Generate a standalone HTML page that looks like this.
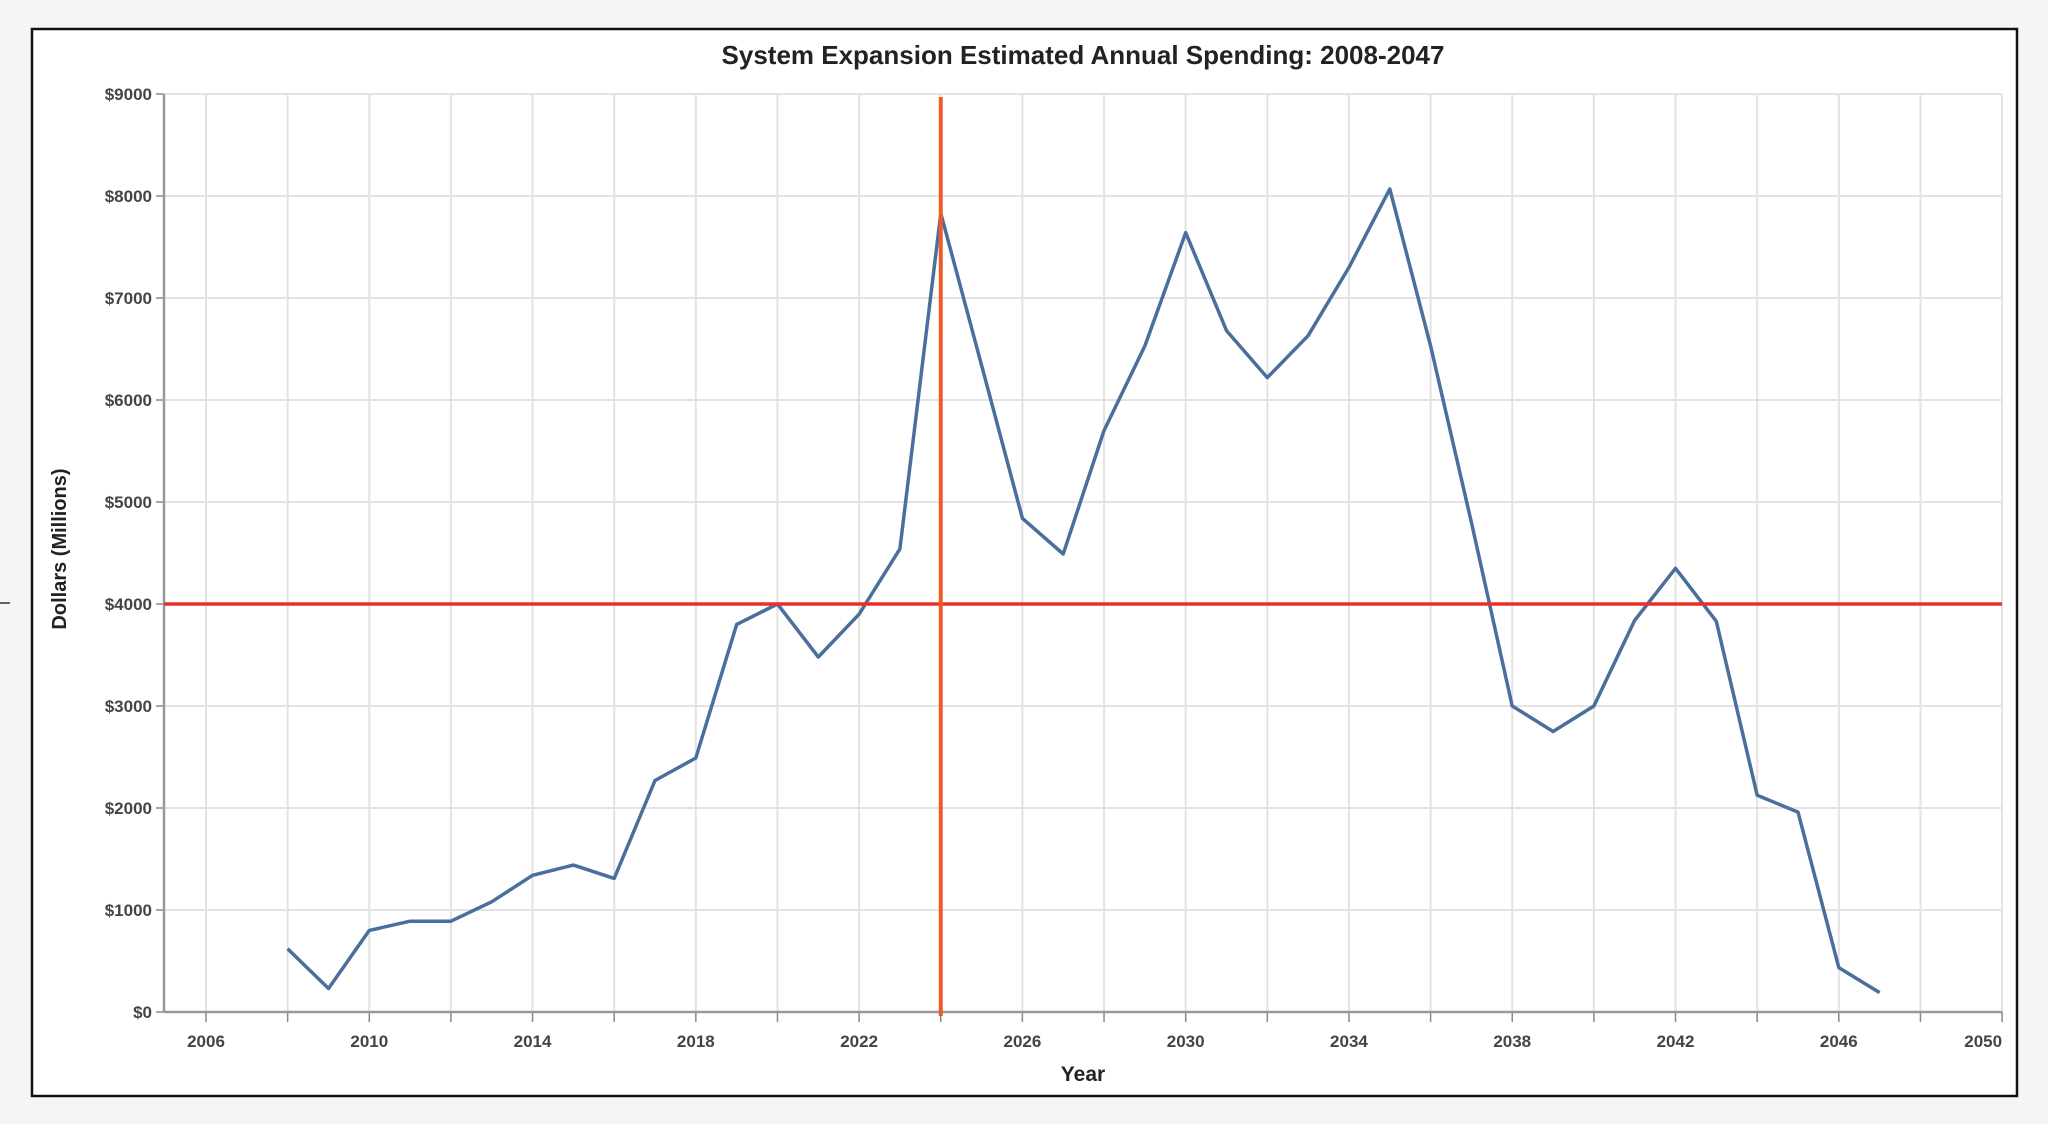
<!DOCTYPE html>
<html><head><meta charset="utf-8"><style>
html,body{margin:0;padding:0;background:#f4f6f5;}
svg{display:block;font-family:"Liberation Sans",Arial,sans-serif;}
</style></head><body>
<svg id="chart" width="2048" height="1124" viewBox="0 0 2048 1124" xmlns="http://www.w3.org/2000/svg">
<rect x="32" y="29" width="1985" height="1067" fill="#fff" stroke="#111" stroke-width="2.5"/>
<line x1="0" y1="603" x2="10" y2="603" stroke="#333" stroke-width="1.5"/>
<text x="1083" y="64" text-anchor="middle" font-size="26" font-weight="bold" fill="#222">System Expansion Estimated Annual Spending: 2008-2047</text>
<g id="grid"></g>
<g id="axes"></g>
<g id="series"></g>
<text x="1083" y="1081" text-anchor="middle" font-size="21" font-weight="bold" fill="#222">Year</text>
<text transform="translate(66,549) rotate(-90)" text-anchor="middle" font-size="20" font-weight="bold" fill="#222">Dollars (Millions)</text>
</svg>
<script>
const years = [2008,2009,2010,2011,2012,2013,2014,2015,2016,2017,2018,2019,2020,2021,2022,2023,2024,2025,2026,2027,2028,2029,2030,2031,2032,2033,2034,2035,2036,2037,2038,2039,2040,2041,2042,2043,2044,2045,2046,2047];
const spending = [620,230,800,890,890,1080,1340,1440,1310,2270,2490,3800,4000,3480,3900,4540,7830,6340,4840,4490,5700,6530,7640,6680,6220,6630,7300,8070,6530,4800,3000,2750,3000,3840,4350,3830,2125,1960,435,190];
const yTicks = [0,1000,2000,3000,4000,5000,6000,7000,8000,9000];
const xTicks = [2006,2008,2010,2012,2014,2016,2018,2020,2022,2024,2026,2028,2030,2032,2034,2036,2038,2040,2042,2044,2046,2048,2050];
const xLabels = [2006,2010,2014,2018,2022,2026,2030,2034,2038,2042,2046,2050];
const thresholdValue = 4000;
const markerYear = 2024;

const NS = "http://www.w3.org/2000/svg";
const X0 = 206, XPX = 40.82, Y0 = 1012, YPX = 0.102;
function xs(yr){return X0 + (yr-2006)*XPX;}
function ys(v){return Y0 - v*YPX;}
const PL = 164, PR = 2002, PT = ys(9000), PB = ys(0);
function mk(tag, attrs, parent){const e=document.createElementNS(NS,tag);for(const k in attrs)e.setAttribute(k,attrs[k]);parent.appendChild(e);return e;}
const grid=document.getElementById('grid'), axes=document.getElementById('axes'), series=document.getElementById('series');
yTicks.forEach(v=>{
  const l=mk('line',{x1:PL,x2:PR,y1:ys(v),y2:ys(v),stroke:'#e3e3e3','stroke-width':2},grid);
  
  
  const t=mk('line',{x1:PL-8,x2:PL,y1:ys(v),y2:ys(v),stroke:'#888','stroke-width':1.5},axes);
  
  
  const tx=mk('text',{x:PL-12,y:ys(v)+6,'text-anchor':'end','font-size':17,'font-weight':'bold',fill:'#444'},axes);
  tx.textContent='$'+v;
  
  
});
xTicks.forEach(yr=>{
  const l=mk('line',{x1:xs(yr),x2:xs(yr),y1:PT,y2:PB,stroke:'#e3e3e3','stroke-width':2},grid);
  
  
  const t=mk('line',{x1:xs(yr),x2:xs(yr),y1:PB,y2:PB+10,stroke:'#888','stroke-width':1.5},axes);
  
  
});
xLabels.forEach((yr,i)=>{
  const last = i===xLabels.length-1;
  const tx=mk('text',{x:xs(yr),y:PB+35,'text-anchor':last?'end':'middle','font-size':17,'font-weight':'bold',fill:'#444'},axes);
  tx.textContent=yr;
  
  
});
const ya=mk('line',{x1:PL,x2:PL,y1:PT,y2:PB,stroke:'#999','stroke-width':2.5},axes);


const xa=mk('line',{x1:PL,x2:PR,y1:PB,y2:PB,stroke:'#999','stroke-width':2.5},axes);


const pts=years.map((yr,i)=>xs(yr).toFixed(1)+','+ys(spending[i]).toFixed(1)).join(' ');
const pl=mk('polyline',{points:pts,fill:'none',stroke:'#4a6f9c','stroke-width':3.5,'stroke-linejoin':'round'},series);


const th=mk('line',{x1:PL,x2:PR,y1:ys(thresholdValue),y2:ys(thresholdValue),stroke:'#e8302a','stroke-width':3.5},series);


const vm=mk('line',{x1:xs(markerYear),x2:xs(markerYear),y1:PT+3,y2:PB+4,stroke:'#f05a28','stroke-width':4},series);


</script>
</body></html>
